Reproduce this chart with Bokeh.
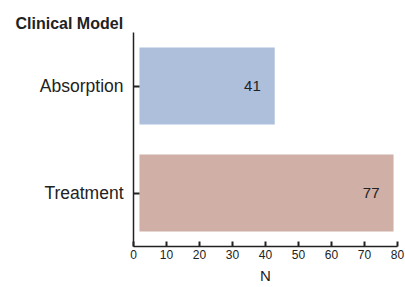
from bokeh.plotting import figure
from bokeh.models import ColumnDataSource, FixedTicker, LabelSet
from bokeh.core.properties import value
from bokeh.embed import file_html
from bokeh.resources import INLINE

# ---- data ----
categories = ["Absorption", "Treatment"]
counts = [41, 77]
bar_colors = ["#AEBFDC", "#CFAFA6"]
x_ticks = [0, 10, 20, 30, 40, 50, 60, 70, 80]
title_text = "Clinical Model"
x_label = "N"

# ---- style ----
FONT = "Liberation Sans"
TXT = "#222222"
bar_start = 1.8  # small gap between axis and bars (data units)

src = ColumnDataSource(dict(
    cat=categories,
    left=[bar_start for _ in counts],
    right=[c + bar_start for c in counts],
    color=bar_colors,
    label=[str(c) for c in counts],
))

p = figure(
    width=405, height=287,
    y_range=list(reversed(categories)),
    x_range=(x_ticks[0], x_ticks[-1]),
    output_backend="svg", toolbar_location=None,
    min_border_left=133, min_border_right=8,
    min_border_top=32, min_border_bottom=41,
)
p.y_range.range_padding = 0

p.hbar(y="cat", left="left", right="right", height=0.72,
       fill_color="color", line_color=None, source=src)

p.add_layout(LabelSet(x="right", y="cat", text="label", source=src,
                      x_offset=-14, text_align="right", text_baseline="middle",
                      text_font=value(FONT), text_font_size=value("15px"),
                      text_color=TXT))

# title
p.title.text = title_text
p.title.text_font = FONT
p.title.text_font_size = "16px"
p.title.text_font_style = "bold"
p.title.text_color = TXT
p.title.align = "left"
p.title.offset = -118
p.title.standoff = 2

# axes
p.xgrid.visible = False
p.ygrid.visible = False
p.outline_line_color = None

xa = p.xaxis[0]
xa.ticker = FixedTicker(ticks=x_ticks)
xa.minor_tick_line_color = None
xa.major_tick_in = 5
xa.major_tick_out = 0
xa.major_tick_line_width = 2
xa.major_tick_line_color = TXT
xa.axis_line_color = TXT
xa.axis_line_width = 1.5
xa.major_label_text_font = FONT
xa.major_label_text_font_size = "12px"
xa.major_label_text_color = TXT
xa.major_label_standoff = 3
xa.axis_label = x_label
xa.axis_label_text_font = FONT
xa.axis_label_text_font_size = "15px"
xa.axis_label_text_font_style = "normal"
xa.axis_label_text_color = TXT
xa.axis_label_standoff = 5

ya = p.yaxis[0]
ya.major_tick_in = 6
ya.major_tick_out = 0
ya.major_tick_line_width = 2
ya.major_tick_line_color = TXT
ya.axis_line_color = TXT
ya.axis_line_width = 1.5
ya.major_label_text_font = FONT
ya.major_label_text_font_size = "17.5px"
ya.major_label_text_color = TXT
ya.major_label_text_baseline = "alphabetic"
ya.major_label_standoff = 10

open("out.html", "w").write(file_html(p, INLINE))
